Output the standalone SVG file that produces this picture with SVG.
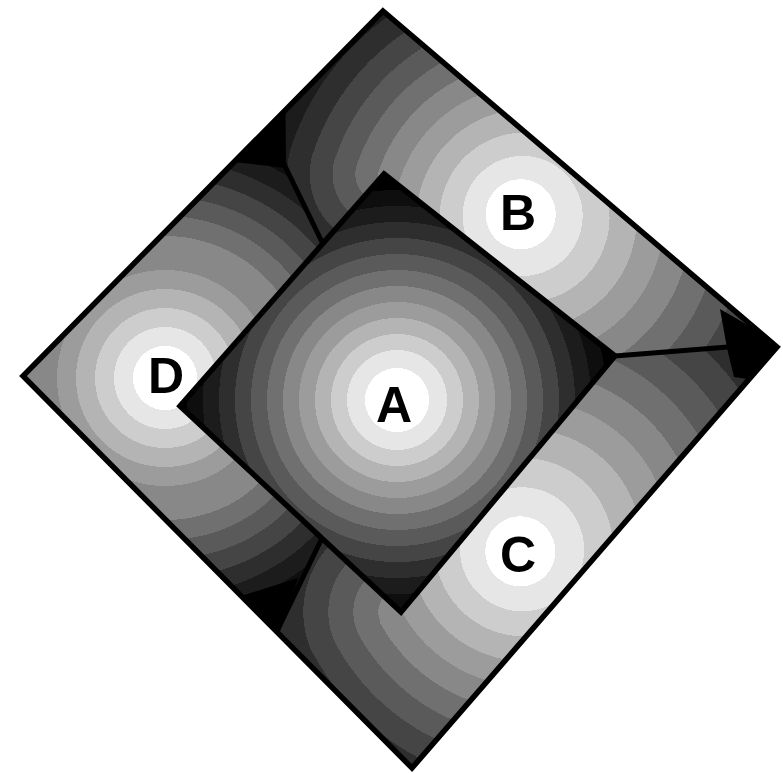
<svg xmlns="http://www.w3.org/2000/svg" width="783" height="773" viewBox="0 0 783 773">
<style>
.l0{stop-color:#ffffff}.l1{stop-color:#e6e6e6}.l2{stop-color:#cdcdcd}.l3{stop-color:#b4b4b4}.l4{stop-color:#9c9c9c}.l5{stop-color:#888888}.l6{stop-color:#707070}.l7{stop-color:#5a5a5a}.l8{stop-color:#454545}.l9{stop-color:#2e2e2e}.l10{stop-color:#1c1c1c}.l11{stop-color:#0e0e0e}.l12{stop-color:#000000}
.edge{stroke:#000;stroke-width:5.5;stroke-linejoin:miter}
.split{fill:none;stroke:#000;stroke-width:5;stroke-linejoin:round}
.wedge{fill:#000}
.lbl{font-family:"Liberation Sans",Arial,sans-serif;font-weight:bold;font-size:50px;text-anchor:middle;fill:#000}
</style>
<defs>
<clipPath id="clipOuter"><polygon points="383,11 777,347 412,768 23,376"/></clipPath>
<clipPath id="clipB"><polygon points="283,162 283,40 383,-30 820,341 728,347 615,356 400,400 322,242"/></clipPath>
<clipPath id="clipC"><polygon points="615,356 728,347 820,341 412,800 270,646 280,625 322,538 400,400"/></clipPath>
<clipPath id="clipD"><polygon points="283,162 283,40 -20,376 270,646 280,625 322,538 400,400 322,242"/></clipPath>
<radialGradient id="gA" gradientUnits="userSpaceOnUse" cx="397" cy="400" r="1000">
<stop offset="0" class="l0"/><stop offset=".032" class="l0"/><stop offset=".032" class="l1"/><stop offset=".050" class="l1"/><stop offset=".050" class="l2"/><stop offset=".066" class="l2"/><stop offset=".066" class="l3"/><stop offset=".082" class="l3"/><stop offset=".082" class="l4"/><stop offset=".098" class="l4"/><stop offset=".098" class="l5"/><stop offset=".114" class="l5"/><stop offset=".114" class="l6"/><stop offset=".130" class="l6"/><stop offset=".130" class="l7"/><stop offset=".146" class="l7"/><stop offset=".146" class="l8"/><stop offset=".162" class="l8"/><stop offset=".162" class="l9"/><stop offset=".178" class="l9"/><stop offset=".178" class="l10"/><stop offset=".194" class="l10"/><stop offset=".194" class="l11"/><stop offset=".210" class="l11"/><stop offset=".210" class="l12"/>
</radialGradient>
<radialGradient id="gB" gradientUnits="userSpaceOnUse" cx="541" cy="231.5" r="300" fx="518" fy="212">
<stop offset="0" class="l0"/><stop offset=".1167" class="l0"/><stop offset=".1167" class="l1"/><stop offset=".2" class="l1"/><stop offset=".2" class="l2"/><stop offset=".2833" class="l2"/><stop offset=".2833" class="l3"/><stop offset=".3667" class="l3"/><stop offset=".3667" class="l4"/><stop offset=".45" class="l4"/><stop offset=".45" class="l5"/><stop offset=".5333" class="l5"/><stop offset=".5333" class="l6"/><stop offset=".6167" class="l6"/><stop offset=".6167" class="l7"/><stop offset=".7" class="l7"/><stop offset=".7" class="l8"/><stop offset=".7833" class="l8"/><stop offset=".7833" class="l9"/><stop offset=".8667" class="l9"/><stop offset=".8667" class="l10"/><stop offset=".95" class="l10"/><stop offset=".95" class="l11"/><stop offset="1" class="l11"/>
</radialGradient>
<radialGradient id="gBw" gradientUnits="userSpaceOnUse" cx="384" cy="174" r="1000">
<stop offset="0" class="l5"/><stop offset=".006" class="l5"/><stop offset=".006" class="l6"/><stop offset=".0287" class="l6"/><stop offset=".0287" class="l7"/><stop offset=".0515" class="l7"/><stop offset=".0515" class="l8"/><stop offset=".0742" class="l8"/><stop offset=".0742" class="l9"/><stop offset=".0969" class="l9"/><stop offset=".0969" class="l10"/><stop offset=".1196" class="l10"/><stop offset=".1196" class="l11"/><stop offset=".1424" class="l11"/><stop offset=".1424" class="l12"/>
</radialGradient>
<radialGradient id="gC" gradientUnits="userSpaceOnUse" cx="540.3" cy="528.3" r="340" fx="518" fy="554">
<stop offset="0" class="l0"/><stop offset=".1029" class="l0"/><stop offset=".1029" class="l1"/><stop offset=".1824" class="l1"/><stop offset=".1824" class="l2"/><stop offset=".2618" class="l2"/><stop offset=".2618" class="l3"/><stop offset=".3412" class="l3"/><stop offset=".3412" class="l4"/><stop offset=".4206" class="l4"/><stop offset=".4206" class="l5"/><stop offset=".5" class="l5"/><stop offset=".5" class="l6"/><stop offset=".5794" class="l6"/><stop offset=".5794" class="l7"/><stop offset=".6588" class="l7"/><stop offset=".6588" class="l8"/><stop offset=".7382" class="l8"/><stop offset=".7382" class="l9"/><stop offset=".8176" class="l9"/><stop offset=".8176" class="l10"/><stop offset=".8971" class="l10"/><stop offset=".8971" class="l11"/><stop offset=".9765" class="l11"/><stop offset=".9765" class="l12"/>
</radialGradient>
<radialGradient id="gCw" gradientUnits="userSpaceOnUse" cx="401" cy="612" r="1000">
<stop offset="0" class="l5"/><stop offset=".0227" class="l5"/><stop offset=".0227" class="l6"/><stop offset=".0477" class="l6"/><stop offset=".0477" class="l7"/><stop offset=".0727" class="l7"/><stop offset=".0727" class="l8"/><stop offset=".0977" class="l8"/><stop offset=".0977" class="l9"/><stop offset=".1227" class="l9"/><stop offset=".1227" class="l10"/><stop offset=".1477" class="l10"/><stop offset=".1477" class="l11"/><stop offset=".1727" class="l11"/><stop offset=".1727" class="l12"/>
</radialGradient>
<radialGradient id="gD" gradientUnits="userSpaceOnUse" cx="165" cy="378" r="1000">
<stop offset="0" class="l0"/><stop offset=".032" class="l0"/><stop offset=".032" class="l1"/><stop offset=".051" class="l1"/><stop offset=".051" class="l2"/><stop offset=".070" class="l2"/><stop offset=".070" class="l3"/><stop offset=".089" class="l3"/><stop offset=".089" class="l4"/><stop offset=".108" class="l4"/><stop offset=".108" class="l5"/><stop offset=".142" class="l5"/><stop offset=".142" class="l6"/><stop offset=".162" class="l6"/><stop offset=".162" class="l7"/><stop offset=".181" class="l7"/><stop offset=".181" class="l8"/><stop offset=".200" class="l8"/><stop offset=".200" class="l9"/><stop offset=".218" class="l9"/><stop offset=".218" class="l10"/><stop offset=".236" class="l10"/><stop offset=".236" class="l11"/><stop offset=".254" class="l11"/><stop offset=".254" class="l12"/>
</radialGradient>
<radialGradient id="gDw" gradientUnits="userSpaceOnUse" cx="180" cy="406" r="1000">
<stop offset="0" class="l1"/><stop offset=".019" class="l1"/><stop offset=".019" class="l2"/><stop offset=".038" class="l2"/><stop offset=".038" class="l3"/><stop offset=".057" class="l3"/><stop offset=".057" class="l4"/><stop offset=".076" class="l4"/><stop offset=".076" class="l5"/><stop offset=".110" class="l5"/><stop offset=".110" class="l6"/><stop offset=".130" class="l6"/><stop offset=".130" class="l7"/><stop offset=".149" class="l7"/><stop offset=".149" class="l8"/><stop offset=".168" class="l8"/><stop offset=".168" class="l9"/><stop offset=".186" class="l9"/><stop offset=".186" class="l10"/><stop offset=".204" class="l10"/><stop offset=".204" class="l11"/><stop offset=".222" class="l11"/><stop offset=".222" class="l12"/>
</radialGradient>
</defs>
<g id="band" clip-path="url(#clipOuter)">
<g id="region-D" clip-path="url(#clipD)">
<rect x="0" y="0" width="783" height="773" fill="url(#gD)"/>
<polygon points="180,406 405,826 800,826 800,406" fill="url(#gDw)"/>
</g>
<g id="region-B" clip-path="url(#clipB)">
<rect x="0" y="0" width="783" height="773" fill="url(#gB)"/>
<polygon points="384,174 -18,60 -18,600 384,600" fill="url(#gBw)"/>
</g>
<g id="region-C" clip-path="url(#clipC)">
<rect x="0" y="0" width="783" height="773" fill="url(#gC)"/>
<polygon points="401,612 50,780 50,300 401,300" fill="url(#gCw)"/>
</g>
<g id="connectors">
<polyline class="split" points="322,242 283,162 283,100"/>
<polyline class="split" points="615,356 728,347 790,346"/>
<polyline class="split" points="322,538 280,625 272,642"/>
<polygon class="wedge" points="720,309 784,346 754,380 734,377 727,348"/>
<polygon class="wedge" points="285,106 234,162 286,168"/>
<polygon class="wedge" points="241,596 279,634 298,578"/>
</g>
</g>
<g id="node-A">
<polygon class="edge" points="384,174 615,356 401,612 180,406" fill="url(#gA)"/>
<text class="lbl" x="394" y="422">A</text>
</g>
<polygon id="outer" class="edge" fill="none" points="383,11 777,347 412,768 23,376"/>
<g id="node-B"><text class="lbl" x="518" y="230">B</text></g>
<g id="node-C"><text class="lbl" x="518" y="572">C</text></g>
<g id="node-D"><text class="lbl" x="166" y="393">D</text></g>
</svg>
